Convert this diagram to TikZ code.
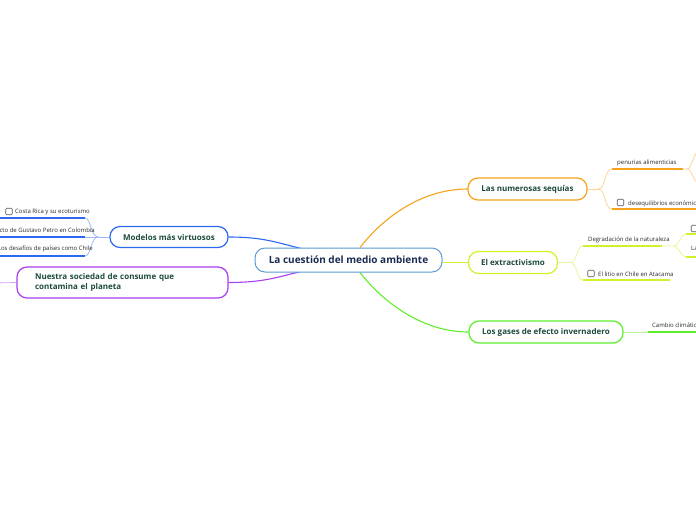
\documentclass[tikz,border=0pt]{standalone}
\usepackage{fontspec}
\setmainfont{Open Sans}
\usetikzlibrary{backgrounds}
\definecolor{cOr}{HTML}{F7A21C}
\definecolor{cOrL}{HTML}{FBD49A}
\definecolor{cYg}{HTML}{D4F02C}
\definecolor{cYgL}{HTML}{E8F79C}
\definecolor{cGr}{HTML}{5FEF2A}
\definecolor{cGrL}{HTML}{B3F596}
\definecolor{cBl}{HTML}{2D68F0}
\definecolor{cBlL}{HTML}{9DB8F7}
\definecolor{cPu}{HTML}{A93DF0}
\definecolor{cPuL}{HTML}{D6A4F7}
\definecolor{cCe}{HTML}{5B9BD5}
\definecolor{tMain}{HTML}{1D4A3C}
\definecolor{tCen}{HTML}{1A2A52}
\definecolor{tSub}{HTML}{2A2A2A}
\tikzset{
  central/.style={draw=cCe, line width=1pt, rounded corners=10pt, fill=white,
    minimum width=187pt, minimum height=24pt, inner sep=0pt,
    font=\bfseries\fontsize{10}{12}\selectfont, text=tCen},
  topic/.style={draw=#1, line width=1.2pt, rounded corners=10pt, fill=white,
    minimum height=22pt, inner sep=0pt,
    font=\bfseries\fontsize{8}{10}\selectfont, text=tMain},
  subtxt/.style={font=\fontsize{6}{7}\selectfont, text=tSub, inner sep=0pt},
  cbox/.style={draw=black!65, line width=0.6pt, rounded corners=1pt,
    minimum size=6.5pt, inner sep=0pt},
  link/.style={line width=1.1pt},
  thinlink/.style={line width=0.8pt},
  uline/.style={line width=1.8pt}
}
\begin{document}
\begin{tikzpicture}[x=1pt,y=-1pt]
\useasboundingbox (0,0) rectangle (696,520);
\clip (0,0) rectangle (696,520);

% main nodes
\node[central] (c) at (348.5,260) {La cuestión del medio ambiente};
\node[topic=cOr, minimum width=119pt] (s) at (527.5,189) {Las numerosas sequías};
\node[topic=cYg, minimum width=89pt] (e) at (513,262.5) {El extractivismo};
\node[topic=cGr, minimum width=154pt] (g) at (546,332) {Los gases de efecto invernadero};
\node[topic=cBl, minimum width=118pt, minimum height=21pt] (m) at (169,237) {Modelos más virtuosos};
\node[topic=cPu, minimum width=211pt, minimum height=31pt, inner xsep=18pt,
  text width=175pt, align=left, font=\bfseries\fontsize{8}{10.5}\selectfont] (n) at (122.5,282.5)
  {Nuestra sociedad de consume que\\contamina el planeta};

% coordinates for sub branches
\coordinate (s1) at (598,189);
\coordinate (pA) at (612,169); \coordinate (pB) at (683,169); \coordinate (pF) at (687,169);
\coordinate (pU) at (700,150); \coordinate (pD) at (700,184);
\coordinate (dA) at (612,209); \coordinate (dB) at (700,209);

\coordinate (e1) at (570,262.5);
\coordinate (gA) at (583,246); \coordinate (gB) at (662,246); \coordinate (gF) at (673,246);
\coordinate (gU) at (686,234); \coordinate (gUe) at (700,234);
\coordinate (gD) at (686,257); \coordinate (gDe) at (700,257);
\coordinate (lA) at (583,280); \coordinate (lB) at (670,280);

\coordinate (g1) at (648,332); \coordinate (g2) at (700,332);

\coordinate (m1) at (98,237);
\coordinate (cA) at (85,218); \coordinate (cB) at (-5,218);
\coordinate (tA) at (85,237); \coordinate (tB) at (-5,237);
\coordinate (hA) at (85,256); \coordinate (hB) at (-5,256);
\coordinate (nL) at (-5,283);

% sub texts
\node[subtxt, anchor=base west] (pt) at (617,164) {penurias alimenticias};
\node[cbox] (dk) at (620.5,202.5) {};
\node[subtxt, anchor=base west] (dt) at (628,205) {desequilibrios económicos};
\node[subtxt, anchor=base west] (gt) at (588,241) {Degradación de la naturaleza};
\node[cbox] (guk) at (694.5,228.5) {};
\node[subtxt, anchor=base west] (gdt) at (691,250.5) {La};
\node[cbox] (lk) at (591,273.5) {};
\node[subtxt, anchor=base west] (lt) at (598,276) {El litio en Chile en Atacama};
\node[subtxt, anchor=base west] (ct) at (652,327.5) {Cambio climático};
\node[cbox] (ck) at (9,211.5) {};
\node[subtxt, anchor=base west] (crt) at (15,213.5) {Costa Rica y su ecoturismo};
\node[subtxt, anchor=base east] (ptt) at (95,232) {cto de Gustavo Petro en Colombia};
\node[subtxt, anchor=base east] (cht) at (93,250.5) {Los desafíos de países como Chile};

\begin{scope}[on background layer]
% main connectors
\draw[link,cOr] ([xshift=11.5pt]c.north) .. controls +(25,-32) and +(-44,0) .. (s.west);
\draw[link,cGr] ([xshift=11.5pt]c.south) .. controls +(25,32) and +(-44,0) .. (g.west);
\draw[link,cYg] (c.east |- e.west) -- (e.west);
\draw[link,cBl] (m.east) .. controls +(40,0) and +(-30,-6) .. ([xshift=-38pt,yshift=-3pt]c.north);
\draw[link,cPu] (n.east) .. controls +(40,0) and +(-30,6) .. ([xshift=-38pt,yshift=3pt]c.south);
\draw[thinlink,cPuL] (n.west) -- (nL);

% sequias
\draw[thinlink,cOrL] (s.east) -- (s1);
\draw[thinlink,cOrL] (s1) .. controls +(8,0) and +(-8,0) .. (pA);
\draw[thinlink,cOrL] (s1) .. controls +(8,0) and +(-8,0) .. (dA);
\draw[uline,cOr] (pA) -- (pB);
\draw[uline,cOr] (dA) -- (dB);
\draw[thinlink,cOrL] (pB) -- (pF) .. controls +(5,0) and +(-6,0) .. (pU);
\draw[thinlink,cOrL] (pF) .. controls +(5,0) and +(-6,0) .. (pD);

% extractivismo
\draw[thinlink,cYgL] (e.east) -- (e1);
\draw[thinlink,cYgL] (e1) .. controls +(8,0) and +(-7,0) .. (gA);
\draw[thinlink,cYgL] (e1) .. controls +(8,0) and +(-7,0) .. (lA);
\draw[uline,cYg] (gA) -- (gB);
\draw[uline,cYg] (lA) -- (lB);
\draw[thinlink,cYgL] (gB) -- (gF) .. controls +(7,0) and +(-6,0) .. (gU);
\draw[thinlink,cYgL] (gF) .. controls +(7,0) and +(-6,0) .. (gD);
\draw[uline,cYg] (gU) -- (gUe);
\draw[uline,cYg] (gD) -- (gDe);

% gases
\draw[thinlink,cGrL] (g.east) -- (g1);
\draw[uline,cGr] (g1) -- (g2);

% modelos
\draw[thinlink,cBlL] (m.west) -- (m1);
\draw[thinlink,cBlL] (m1) .. controls +(-7,0) and +(6,0) .. (cA);
\draw[thinlink,cBlL] (m1) -- (tA);
\draw[thinlink,cBlL] (m1) .. controls +(-7,0) and +(6,0) .. (hA);
\draw[uline,cBl] (cA) -- (cB);
\draw[uline,cBl] (tA) -- (tB);
\draw[uline,cBl] (hA) -- (hB);
\end{scope}
\end{tikzpicture}
\end{document}
